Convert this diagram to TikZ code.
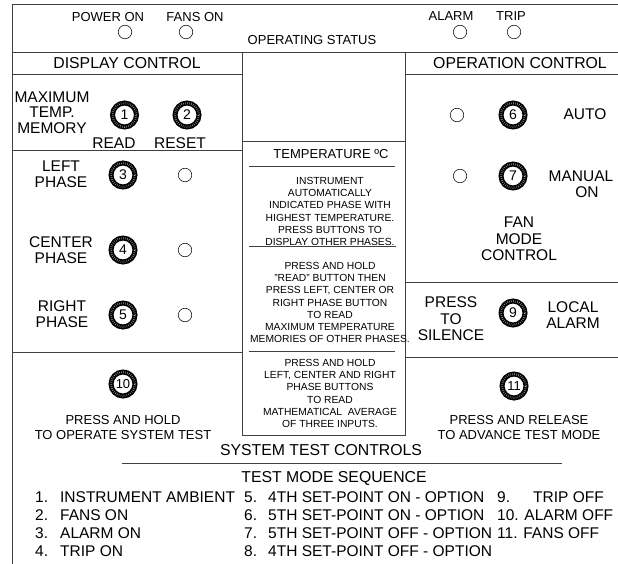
\documentclass[tikz,border=0pt]{standalone}
\usepackage{fontspec}
\setmainfont{Liberation Sans}
\usetikzlibrary{positioning}

\begin{document}
\begin{tikzpicture}[x=1pt, y=-1pt,
        rule/.style={draw=black!75, line width=0.8pt},
        led/.style={circle, draw, line width=0.5pt, minimum size=13.5pt, inner sep=0pt},
        knob/.style={circle, draw, line width=5pt, minimum size=24pt, inner sep=0pt, font=\fontsize{14}{14}\selectfont,
            postaction={draw=white!85!black, line width=2pt, dash pattern=on 0.3pt off 1.7pt}},
        head/.style={inner sep=0pt, font=\fontsize{15.8}{15.8}\selectfont},
        lbl/.style={inner sep=0pt, align=center, font=\fontsize{15.5}{16.5}\selectfont},
        small/.style={inner sep=0pt, align=center, font=\fontsize{13}{15}\selectfont},
        note/.style={inner sep=0pt, align=center, font=\fontsize{10.3}{12.2}\selectfont},
        seq/.style={inner sep=0pt, align=left, anchor=west, font=\fontsize{15.5}{18}\selectfont}]

        \clip (0,0) rectangle (618,564);

        % Panel lines
        \draw [rule] (12,570) -- (12,4) -- (620,4);
        \draw [rule] (12,52) -- (620,52);
        \draw [rule] (12,74) -- (242,74);
        \draw [rule] (405,74) -- (620,74);
        \draw [rule] (242,52) -- (242,435) -- (405,435) -- (405,52);
        \draw [rule] (242,141) -- (405,141);
        \draw [rule] (12,150) -- (242,150);
        \draw [rule] (12,352) -- (242,352);
        \draw [rule] (405,282) -- (620,282);
        \draw [rule] (405,357) -- (620,357);
        \draw [rule] (249,166) -- (395,166);
        \draw [rule] (249,246) -- (396,246);
        \draw [rule] (249,351) -- (395,351);
        \draw [rule] (122,463) -- (562,463);

        % Operating status
        \node [small] (power) at (108,17) {POWER ON};
        \node [small] (fans) at (195,17) {FANS ON};
        \node [led] (led_power) at (125,32) {};
        \node [led] (led_fans) at (186,32) {};
        \node [small] (opstatus) at (312,40) {OPERATING STATUS};
        \node [small] (alarm) at (451,16) {ALARM};
        \node [small] (trip) at (511,16) {TRIP};
        \node [led] (led_alarm) at (460,32) {};
        \node [led] (led_trip) at (514,32) {};

        % Display control
        \node [head] (display) at (127,63) {DISPLAY CONTROL};
        \node [lbl, font=\fontsize{15.5}{15.5}\selectfont] (maxmem) at (52,112.5) {MAXIMUM\\TEMP.\\MEMORY};
        \node [knob] (k1) at (124.5,115) {1};
        \node [knob] (k2) at (187,115) {2};
        \node [lbl] (read) at (114,143) {READ};
        \node [lbl] (reset) at (180,143) {RESET};
        \node [lbl] (left) at (61,174) {LEFT\\PHASE};
        \node [knob] (k3) at (123,175) {3};
        \node [led] (led_left) at (185,175) {};
        \node [lbl] (center) at (61,250) {CENTER\\PHASE};
        \node [knob] (k4) at (123,250) {4};
        \node [led] (led_center) at (185,250) {};
        \node [lbl] (right) at (62,314) {RIGHT\\PHASE};
        \node [knob] (k5) at (123,315) {5};
        \node [led] (led_right) at (185,315) {};
        \node [knob, font=\fontsize{13}{13}\selectfont] (k10) at (123,384) {10};
        \node [small] (systest) at (123,427.5) {PRESS AND HOLD\\TO OPERATE SYSTEM TEST};

        % Temperature notes
        \node [small] (temp) at (331,154) {TEMPERATURE ºC};
        \node [note] (note_auto) at (330,211.5) {INSTRUMENT\\AUTOMATICALLY\\INDICATED PHASE WITH\\HIGHEST TEMPERATURE.\\PRESS BUTTONS TO\\DISPLAY OTHER PHASES.};
        \node [note] (note_max) at (330,302.5) {PRESS AND HOLD\\"READ" BUTTON THEN\\PRESS LEFT, CENTER OR\\RIGHT PHASE BUTTON\\TO READ\\MAXIMUM TEMPERATURE\\MEMORIES OF OTHER PHASES.};
        \node [note] (note_avg) at (330,393.5) {PRESS AND HOLD\\LEFT, CENTER AND RIGHT\\PHASE BUTTONS\\TO READ\\MATHEMATICAL~~AVERAGE\\OF THREE INPUTS.};

        % Operation control
        \node [head] (operation) at (520,63) {OPERATION CONTROL};
        \node [led] (led_auto) at (457,115) {};
        \node [knob] (k6) at (513,115) {6};
        \node [lbl] (auto) at (585,114) {AUTO};
        \node [led] (led_manual) at (460,176) {};
        \node [knob] (k7) at (513,176) {7};
        \node [lbl] (manual) at (581,184) {MANUAL\\\hspace{12pt}ON};
        \node [lbl] (fanmode) at (519,239) {FAN\\MODE\\CONTROL};
        \node [lbl] (silence) at (451,319) {PRESS\\TO\\SILENCE};
        \node [knob] (k9) at (513,313) {9};
        \node [lbl] (local) at (573,315) {LOCAL\\ALARM};
        \node [knob, font=\fontsize{13}{13}\selectfont] (k11) at (514,386) {11};
        \node [small] (advance) at (519,427.5) {PRESS AND RELEASE\\TO ADVANCE TEST MODE};

        % System test controls
        \node [head] (stc) at (321,450) {SYSTEM TEST CONTROLS};
        \node [head] (tms) at (334,478) {TEST MODE SEQUENCE};
        \node [seq] (seq_a) at (35,524.5) {\makebox[25pt][l]{1.}INSTRUMENT AMBIENT\\\makebox[25pt][l]{2.}FANS ON\\\makebox[25pt][l]{3.}ALARM ON\\\makebox[25pt][l]{4.}TRIP ON};
        \node [seq] (seq_b) at (244,524.5) {\makebox[24pt][l]{5.}4TH SET-POINT ON - OPTION\\\makebox[24pt][l]{6.}5TH SET-POINT ON - OPTION\\\makebox[24pt][l]{7.}5TH SET-POINT OFF - OPTION\\\makebox[24pt][l]{8.}4TH SET-POINT OFF - OPTION};
        \node [seq] (seq_c) at (497,515.5) {\makebox[36pt][l]{9.}TRIP OFF\\10. ALARM OFF\\11. FANS OFF};
    \end{tikzpicture}
\end{document}
